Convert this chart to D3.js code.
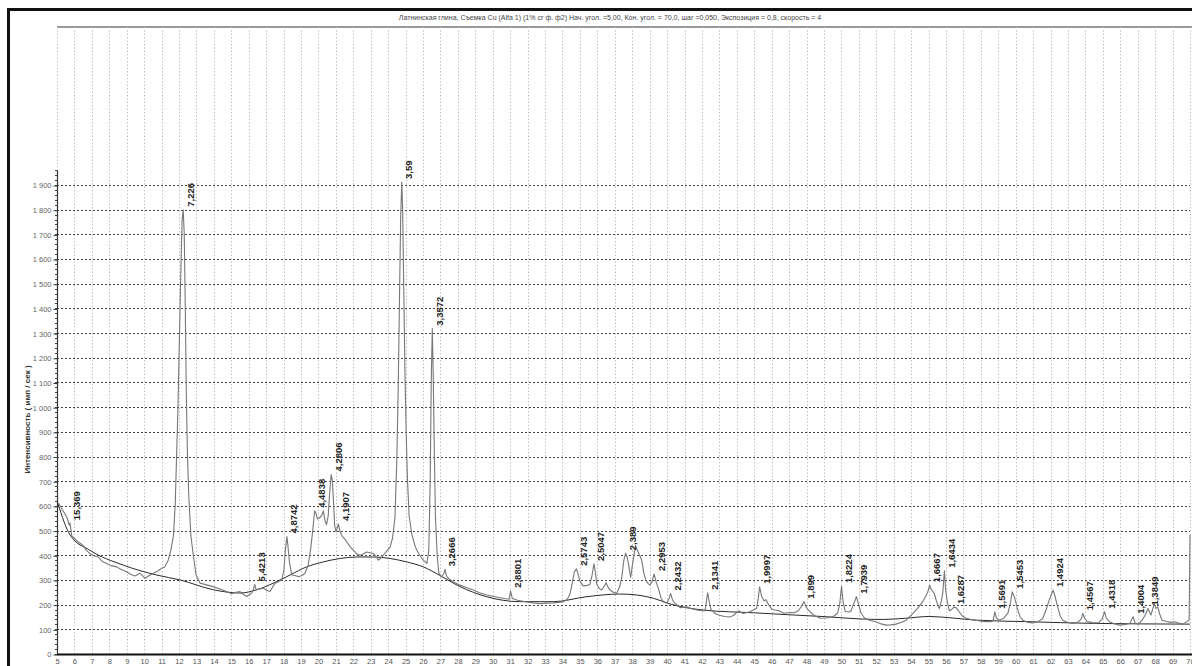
<!DOCTYPE html>
<html>
<head>
<meta charset="utf-8">
<script src="https://cdn.jsdelivr.net/npm/d3@7"></script>
<style>
  html, body { margin: 0; padding: 0; background: #fff; }
  svg { display: block; font-family: "Liberation Sans", Arial, sans-serif; }
</style>
</head>
<body>
<svg id="chart" width="1192" height="666"></svg>
<script>
// Diffractogram: 2θ (degrees) against intensity (counts per second)
const title = "Латнинская глина, Съемка Cu (Alfa 1) (1% сг ф. ф2) Нач. угол. =5,00, Кон. угол. = 70,0, шаг =0,050, Экспозиция = 0,8, скорость = 4";
const yTitle = "Интенсивность ( имп / сек )";

const angles = [
  5.08, 5.30, 5.46, 5.60, 5.70, 5.75, 5.85, 6.00, 6.20, 6.50, 6.69, 6.89, 7.09, 7.37, 7.59, 7.85, 8.09, 8.42, 8.69, 8.99,
  9.24, 9.48, 9.76, 10.05, 10.29, 10.53, 10.78, 11.00, 11.18, 11.38, 11.53, 11.68, 11.78, 11.86, 11.94, 12.03, 12.12, 12.18, 12.24, 12.30,
  12.36, 12.42, 12.48, 12.56, 12.68, 12.82, 12.98, 13.21, 13.58, 13.96, 14.38, 14.73, 15.02, 15.27, 15.50, 15.72, 15.88, 16.17, 16.27, 16.34,
  16.42, 16.57, 16.84, 17.02, 17.22, 17.51, 17.89, 18.02, 18.10, 18.19, 18.26, 18.34, 18.47, 18.67, 18.85, 19.06, 19.23, 19.41, 19.56, 19.67,
  19.78, 19.86, 19.94, 20.06, 20.18, 20.28, 20.38, 20.46, 20.56, 20.64, 20.73, 20.80, 20.86, 20.93, 21.01, 21.14, 21.24, 21.36, 21.62, 21.81,
  22.01, 22.21, 22.39, 22.56, 22.77, 22.96, 23.15, 23.30, 23.44, 23.60, 23.72, 23.95, 24.11, 24.25, 24.39, 24.50, 24.58, 24.65, 24.72, 24.78,
  24.83, 24.89, 24.96, 25.03, 25.10, 25.20, 25.35, 25.55, 25.74, 26.02, 26.22, 26.33, 26.41, 26.47, 26.53, 26.58, 26.64, 26.71, 26.81, 26.90,
  27.04, 27.19, 27.26, 27.34, 27.44, 27.74, 28.12, 28.44, 28.88, 29.24, 29.65, 30.04, 30.42, 30.74, 30.94, 31.02, 31.12, 31.43, 31.94, 32.33,
  32.71, 33.13, 33.48, 33.78, 34.04, 34.27, 34.42, 34.57, 34.67, 34.80, 34.87, 35.00, 35.19, 35.42, 35.57, 35.70, 35.80, 35.87, 35.97, 36.12,
  36.25, 36.40, 36.50, 36.62, 36.73, 36.92, 37.11, 37.27, 37.40, 37.52, 37.62, 37.72, 37.82, 37.91, 38.03, 38.15, 38.23, 38.36, 38.54, 38.66,
  38.77, 38.91, 39.01, 39.12, 39.26, 39.38, 39.50, 39.66, 39.80, 39.98, 40.12, 40.20, 40.30, 40.42, 40.75, 41.13, 41.42, 41.70, 42.01, 42.18,
  42.26, 42.33, 42.42, 42.53, 42.79, 43.00, 43.30, 43.60, 43.80, 43.98, 44.13, 44.25, 44.37, 44.75, 45.00, 45.13, 45.22, 45.31, 45.42, 45.56,
  45.68, 45.78, 46.03, 46.43, 46.70, 47.03, 47.28, 47.53, 47.68, 47.86, 47.95, 48.05, 48.40, 48.78, 49.10, 49.36, 49.60, 49.78, 49.90, 50.01,
  50.10, 50.22, 50.43, 50.55, 50.72, 50.86, 50.95, 51.13, 51.34, 51.61, 51.98, 52.28, 52.56, 52.83, 53.13, 53.43, 53.71, 53.93, 54.19, 54.43,
  54.66, 54.82, 54.95, 55.06, 55.15, 55.33, 55.47, 55.62, 55.74, 55.82, 55.87, 55.91, 55.98, 56.08, 56.20, 56.32, 56.46, 56.58, 56.72, 56.92,
  57.16, 57.42, 57.73, 58.01, 58.30, 58.56, 58.68, 58.75, 58.80, 58.90, 59.07, 59.31, 59.55, 59.71, 59.80, 59.93, 60.12, 60.26, 60.41, 60.71,
  60.98, 61.30, 61.55, 61.75, 61.93, 62.15, 62.25, 62.41, 62.55, 62.70, 63.00, 63.28, 63.55, 63.70, 63.78, 63.85, 63.95, 64.10, 64.40, 64.75,
  64.95, 65.10, 65.20, 65.38, 65.68, 65.97, 66.30, 66.55, 66.65, 66.74, 66.85, 67.05, 67.25, 67.45, 67.59, 67.68, 67.76, 67.85, 67.95, 68.05,
  68.15, 68.27, 68.40, 68.65, 68.90, 69.10, 69.35, 69.60, 69.80, 69.95, 70.00
];
const counts = [
  612, 585, 567, 548, 522, 530, 478, 468, 455, 440, 420, 407, 398, 393, 375, 367, 358, 353, 342, 333,
  322, 316, 327, 307, 318, 327, 336, 347, 352, 380, 420, 480, 600, 800, 1000, 1300, 1600, 1760, 1800, 1700,
  1400, 1050, 820, 640, 480, 400, 320, 287, 280, 273, 262, 253, 244, 250, 253, 240, 233, 247, 262, 282,
  262, 262, 267, 258, 253, 287, 300, 340, 420, 476, 430, 370, 320, 318, 313, 318, 327, 360, 430, 500,
  580, 570, 547, 552, 560, 580, 540, 524, 560, 650, 727, 700, 620, 520, 495, 527, 495, 478, 455, 435,
  420, 405, 400, 405, 413, 410, 407, 395, 380, 390, 400, 420, 433, 470, 553, 800, 1100, 1450, 1780, 1912,
  1800, 1500, 1150, 900, 720, 560, 487, 435, 407, 380, 367, 420, 700, 1100, 1318, 1150, 850, 560, 400, 330,
  312, 325, 343, 318, 307, 292, 279, 270, 259, 248, 239, 233, 228, 224, 222, 256, 225, 218, 211, 207,
  204, 206, 207, 209, 211, 222, 240, 290, 330, 345, 330, 295, 276, 278, 282, 320, 365, 340, 282, 265,
  259, 275, 289, 270, 259, 250, 246, 270, 310, 380, 408, 390, 350, 310, 370, 420, 432, 410, 381, 330,
  300, 285, 280, 290, 324, 290, 266, 225, 211, 207, 225, 245, 222, 207, 188, 191, 183, 178, 175, 175,
  215, 248, 210, 180, 163, 157, 152, 150, 156, 167, 175, 168, 164, 171, 180, 184, 220, 272, 235, 216,
  220, 205, 180, 175, 165, 168, 167, 175, 190, 212, 195, 182, 158, 145, 146, 148, 155, 165, 200, 275,
  210, 172, 170, 174, 205, 232, 210, 165, 145, 137, 131, 122, 117, 118, 121, 128, 137, 152, 171, 190,
  212, 232, 250, 279, 262, 245, 210, 184, 215, 250, 300, 337, 260, 210, 175, 180, 190, 188, 175, 155,
  145, 140, 137, 133, 131, 131, 133, 150, 171, 145, 137, 145, 165, 210, 252, 230, 178, 150, 137, 128,
  126, 132, 144, 180, 220, 259, 235, 190, 155, 137, 128, 124, 128, 137, 145, 165, 145, 131, 127, 126,
  140, 171, 145, 131, 122, 117, 120, 124, 140, 151, 125, 121, 137, 160, 184, 170, 158, 180, 205, 185,
  191, 160, 137, 132, 128, 131, 125, 121, 130, 137, 482
];

// Fitted background under the pattern
const bgAngles = [5.05, 5.75, 6.89, 8.80, 10.71, 12.06, 13.98, 15.50, 16.46, 17.41, 18.37, 19.32, 20.28, 21.24, 22.19, 23.15, 24.11, 25.06, 26.02, 26.97,
  28.12, 29.65, 31.56, 33.48, 35.38, 37.29, 38.26, 39.21, 40.16, 42.08, 44.94, 47.24, 49.15, 51.06, 52.40, 53.70, 55.05, 56.35, 57.75, 60.65, 64.45, 70.00];
const bgCounts = [610, 482, 420, 360, 320, 300, 260, 247, 260, 287, 320, 353, 373, 387, 393, 393, 387, 373, 353, 318,
  273, 232, 212, 212, 232, 243, 239, 226, 203, 178, 167, 158, 151, 142, 140, 145, 152, 146, 137, 131, 124, 121];

// Interplanar spacings (Å) marked at their reflections
const peakLabels = ["15,369", "7,226", "5,4213", "4,8742", "4,4838", "4,2806", "4,1907", "3,59", "3,3572", "3,2666", "2,8801",
  "2,5743", "2,5047", "2,389", "2,2953", "2,2432", "2,1341", "1,9997", "1,899", "1,8224", "1,7939", "1,6667", "1,6434",
  "1,6287", "1,5691", "1,5453", "1,4924", "1,4567", "1,4318", "1,4004", "1,3849"];
const peakAngles = [5.75, 12.24, 16.34, 18.19, 19.78, 20.73, 21.14, 24.78, 26.53, 27.26, 31.02,
  34.80, 35.80, 37.62, 39.26, 40.20, 42.33, 45.31, 47.86, 50.01, 50.86, 55.06, 55.91,
  56.46, 58.80, 59.80, 62.15, 63.85, 65.10, 66.74, 67.59];
const peakCounts = [530, 1800, 282, 476, 580, 727, 527, 1912, 1318, 343, 256,
  345, 365, 408, 324, 245, 248, 272, 212, 275, 232, 279, 337,
  190, 171, 252, 259, 165, 171, 151, 184];

const xTicks = d3.range(5, 71, 1);
const yTicks = d3.range(0, 2000, 100);
const yMinorTicks = d3.range(0, 1961, 20);

(function draw() {
  const svg = d3.select("#chart");
  const W = 1192, H = 666;
  const pLeft = 57, pRight = 1190, pTop = 27, pBottom = 654;

  const x = d3.scaleLinear().domain([5, 70]).range([pLeft, pRight]);
  const y = d3.scaleLinear().domain([0, 1900]).range([pBottom, 185]);

  svg.append("rect").attr("width", W).attr("height", H).attr("fill", "#fff");

  // outer frame
  svg.append("rect")
    .attr("x", 8.5).attr("y", 9.5).attr("width", 1200).attr("height", 680)
    .attr("fill", "none").attr("stroke", "#111").attr("stroke-width", 3);

  // title
  svg.append("text")
    .attr("x", 610).attr("y", 19.5)
    .attr("text-anchor", "middle")
    .attr("font-size", 7).attr("fill", "#444")
    .text(title);

  // plot top edge
  svg.append("line")
    .attr("x1", pLeft).attr("x2", W).attr("y1", pTop).attr("y2", pTop)
    .attr("stroke", "#999").attr("stroke-width", 2);

  // vertical dotted grid
  svg.append("g").selectAll("line").data(xTicks).join("line")
    .attr("x1", d => Math.round(x(d)) + 0.5).attr("x2", d => Math.round(x(d)) + 0.5)
    .attr("y1", pTop).attr("y2", pBottom)
    .attr("stroke", "#b5b5b5").attr("stroke-width", 1).attr("stroke-dasharray", "1.2,2.2");

  // horizontal dashed grid
  svg.append("g").selectAll("line").data(yTicks.filter(d => d > 0)).join("line")
    .attr("x1", pLeft).attr("x2", pRight)
    .attr("y1", d => Math.round(y(d)) + 0.5).attr("y2", d => Math.round(y(d)) + 0.5)
    .attr("stroke", "#444").attr("stroke-width", 1).attr("stroke-dasharray", "2,2");

  // y axis with major and minor ticks
  const yAxis = d3.axisLeft(y).tickValues(yTicks).tickSize(4).tickPadding(2)
    .tickFormat(d => d >= 1000 ? d3.format(",")(d).replace(",", " ") : d);
  const gy = svg.append("g").attr("transform", `translate(${pLeft + 0.5},0.5)`).call(yAxis);
  gy.select(".domain").remove();
  gy.selectAll(".tick line").attr("stroke", "#333");
  gy.selectAll(".tick text").attr("font-size", 7.5).attr("fill", "#666")
    .attr("font-family", "Liberation Sans, Arial, sans-serif");
  svg.append("g").selectAll("line").data(yMinorTicks).join("line")
    .attr("x1", pLeft - 2).attr("x2", pLeft)
    .attr("y1", d => Math.round(y(d)) + 0.5).attr("y2", d => Math.round(y(d)) + 0.5)
    .attr("stroke", "#444");
  svg.append("line")
    .attr("x1", pLeft + 0.5).attr("x2", pLeft + 0.5)
    .attr("y1", y(1960)).attr("y2", pBottom)
    .attr("stroke", "#333").attr("stroke-width", 1.2);

  // y axis title
  svg.append("text")
    .attr("transform", `translate(30,${(y(0) + y(1900)) / 2}) rotate(-90)`)
    .attr("text-anchor", "middle")
    .attr("font-size", 8).attr("font-weight", "bold").attr("fill", "#333")
    .text(yTitle);

  // x axis
  const xAxis = d3.axisBottom(x).tickValues(xTicks).tickSize(0).tickPadding(5).tickFormat(d3.format("d"));
  const gx = svg.append("g").attr("transform", `translate(0,${pBottom})`).call(xAxis);
  gx.select(".domain").remove();
  gx.selectAll(".tick text").attr("font-size", 7.5).attr("fill", "#555")
    .attr("font-family", "Liberation Sans, Arial, sans-serif");
  svg.append("line")
    .attr("x1", pLeft).attr("x2", W).attr("y1", pBottom + 0.5).attr("y2", pBottom + 0.5)
    .attr("stroke", "#111").attr("stroke-width", 2);

  // pattern and background
  svg.append("clipPath").attr("id", "plotClip")
    .append("rect").attr("x", pLeft).attr("y", pTop).attr("width", pRight - pLeft + 1).attr("height", pBottom - pTop);

  const trace = angles.map((a, i) => [a, counts[i]]);
  const bg = bgAngles.map((a, i) => [a, bgCounts[i]]);

  svg.append("path")
    .datum(bg)
    .attr("clip-path", "url(#plotClip)")
    .attr("fill", "none").attr("stroke", "#2a2a2a").attr("stroke-width", 1)
    .attr("d", d3.line().x(d => x(d[0])).y(d => y(d[1])).curve(d3.curveMonotoneX));

  svg.append("path")
    .datum(trace)
    .attr("clip-path", "url(#plotClip)")
    .attr("fill", "none").attr("stroke", "#777").attr("stroke-width", 1.1)
    .attr("stroke-linejoin", "round")
    .attr("d", d3.line().x(d => x(d[0])).y(d => y(d[1])));

  // d-spacing labels above the reflections
  svg.append("g").selectAll("text").data(peakLabels).join("text")
    .attr("transform", (d, i) => `translate(${x(peakAngles[i]) + 7},${y(peakCounts[i]) - 3}) rotate(-90)`)
    .attr("dy", "0.35em")
    .attr("font-size", 9.5).attr("font-weight", "bold").attr("fill", "#222")
    .text(d => d);
})();
</script>
</body>
</html>
